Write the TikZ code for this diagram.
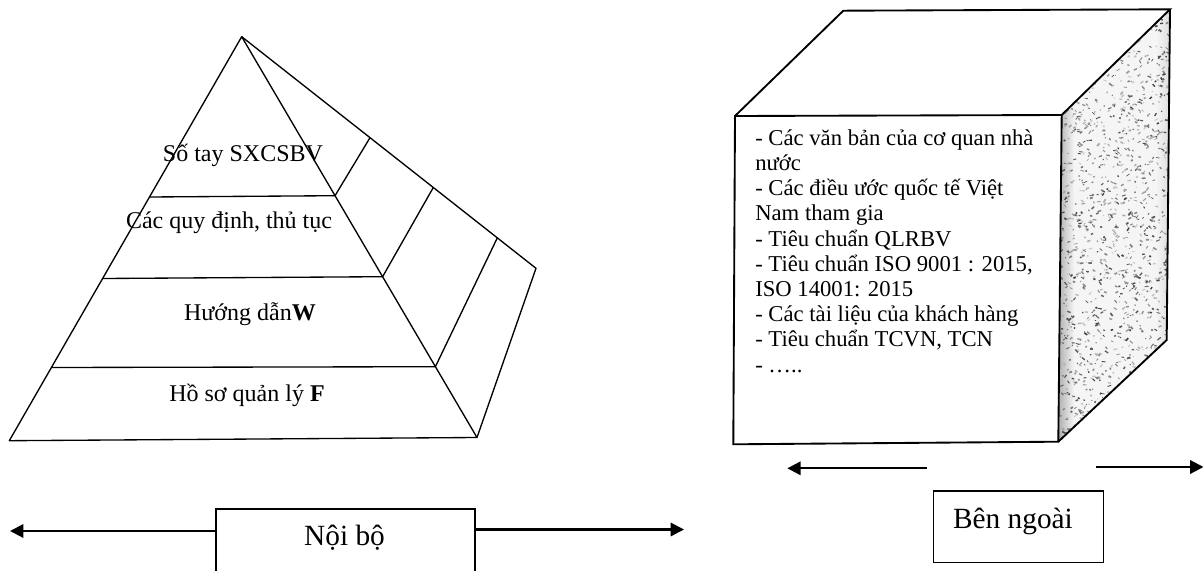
\documentclass[tikz,border=0pt]{standalone}
\usepackage{fontspec}
\setmainfont{Liberation Serif}
\usetikzlibrary{arrows.meta,calc}

\begin{document}
\begin{tikzpicture}[x=0.75pt,y=-0.75pt,
  edge/.style={line width=1pt, line join=round},
  cubeline/.style={line width=1.4pt, line join=miter},
  layertext/.style={font=\fontsize{18}{21}\selectfont, inner sep=0pt, anchor=base},
  sidetext/.style={font=\fontsize{22}{26}\selectfont, inner sep=0pt, anchor=base},
  flow/.style={line width=1.6pt, -{Triangle[length=10pt,width=10pt]}},
  framebox/.style={draw, line width=1.3pt, inner sep=0pt}
]
% canvas
\path[use as bounding box, clip] (0,0) rectangle (1204,571);
\fill[white] (0,0) rectangle (1204,571);

% ---------- pyramid ----------
\coordinate (apex) at (241.7,36.7);
\coordinate (bl)   at (9.3,440.7);
\coordinate (br)   at (477,437.5);
\coordinate (back) at (536,268.3);

\coordinate (l1) at (149.5,197);   \coordinate (r1) at (335,195.7);
\coordinate (l2) at (102.6,278.5); \coordinate (r2) at (382.6,276.7);
\coordinate (l3) at (51.4,367.5);  \coordinate (r3) at (435.4,366.7);
\coordinate (s1) at (370,137.7);
\coordinate (s2) at (433.3,187.5);
\coordinate (s3) at (497.3,237.9);

\draw[edge] (bl) -- (apex) -- (br) -- cycle;
\draw[edge] (apex) -- (back) -- (br);
\draw[edge] (l1) -- (r1) -- (s1);
\draw[edge] (l2) -- (r2) -- (s2);
\draw[edge] (l3) -- (r3) -- (s3);

\node[layertext] (t1) at (243,161.7) {Số tay SXCSBV};
\node[layertext] (t2) at (229,228)   {Các quy định, thủ tục};
\node[layertext] (t3) at (250,320)   {Hướng dẫn\textbf{W}};
\node[layertext] (t4) at (247,401.7) {Hồ sơ quản lý \textbf{F}};

% ---------- cube ----------
\coordinate (ftl) at (735,116);
\coordinate (ftr) at (1061.7,115);
\coordinate (fbr) at (1058.3,441.7);
\coordinate (fbl) at (733.3,444.3);
\coordinate (btl) at (843.3,10.7);
\coordinate (btr) at (1170,9.3);
\coordinate (bbr) at (1166.7,340);

% grainy shaded side face
\begin{scope}
  \clip (ftr) -- (btr) -- (bbr) -- (fbr) -- cycle;
  \fill[gray!8] (1050,0) rectangle (1180,450);
  \shade[left color=gray!70, right color=gray!8] (1056,0) rectangle (1074,450);
  \shade[left color=gray!8, right color=gray!30] (1156,0) rectangle (1172,450);
  \pgfmathsetseed{42}
  \foreach \i in {1,...,1100}{
    \pgfmathsetmacro\u{rnd}
    \pgfmathsetmacro\v{rnd}
    \pgfmathsetmacro\w{0.8+3.2*rnd}
    \pgfmathsetmacro\h{0.6+1.2*rnd}
    \pgfmathsetmacro\a{-60+120*rnd}
    \pgfmathsetmacro\g{20+55*rnd}
    \pgfmathsetmacro\px{1061.7+\u*108.3-\v*3.4}
    \pgfmathsetmacro\py{115-\u*105.7+\v*326.7}
    \fill[black!\g, rotate around={\a:(\px,\py)}] (\px,\py) rectangle ++(\w,\h);
  }
\end{scope}

\draw[cubeline] (ftl) -- (ftr) -- (fbr) -- (fbl) -- cycle;
\draw[cubeline] (ftl) -- (btl) -- (btr) -- (ftr);
\draw[cubeline] (btr) -- (bbr) -- (fbr);

\node[font=\fontsize{17}{18.9}\selectfont, inner sep=0pt, anchor=north west, align=left]
  (extlist) at (755,126.3) {\rule{0pt}{14pt}- Các văn bản của cơ quan nhà\\
nước\\
- Các điều ước quốc tế Việt\\
Nam tham gia\\
- Tiêu chuẩn QLRBV\\
- Tiêu chuẩn ISO 9001 : 2015,\\
ISO 14001: 2015\\
- Các tài liệu của khách hàng\\
- Tiêu chuẩn TCVN, TCN\\
- …..};

% ---------- internal / external labels ----------
\node[framebox, minimum width=194.25pt, minimum height=61.5pt, anchor=north west]
  (noibo) at (215,508) {};
\node[sidetext] (noibotext) at (344.5,545) {Nội bộ};
\coordinate (noiboL) at (10,531);
\coordinate (noiboR) at (684,529.5);
\draw[flow] ($(noibo.north west)+(0,23)$) -- (noiboL);
\draw[flow] ($(noibo.north east)+(0,21.5)$) -- (noiboR);

\node[framebox, minimum width=127.5pt, minimum height=53.8pt, anchor=north west]
  (benngoai) at (932.7,490) {};
\node[sidetext] (benngoaitext) at (1013,528.3) {Bên ngoài};
\coordinate (extLa) at (926.7,468.3);
\coordinate (extLb) at (787.3,468.3);
\coordinate (extRa) at (1096,467);
\coordinate (extRb) at (1203.5,467);
\draw[flow] (extLa) -- (extLb);
\draw[flow] (extRa) -- (extRb);
\end{tikzpicture}
\end{document}
